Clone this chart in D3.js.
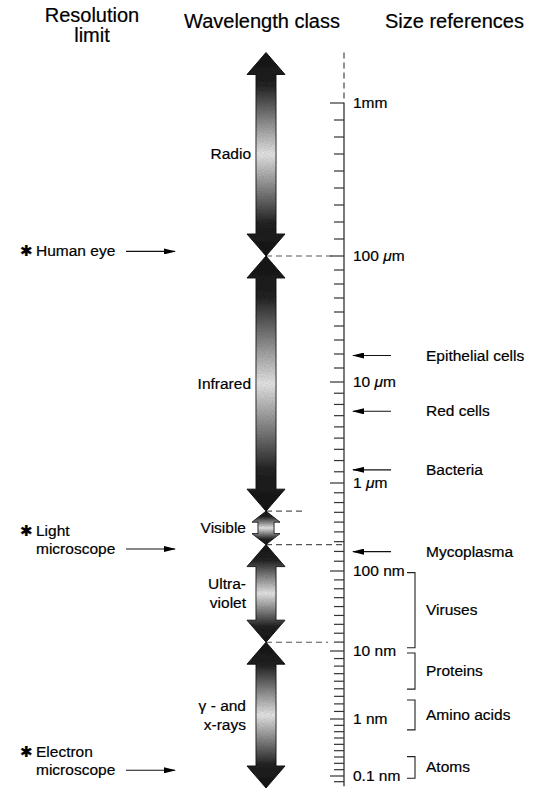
<!DOCTYPE html>
<html>
<head>
<meta charset="utf-8">
<script src="https://cdn.jsdelivr.net/npm/d3@7"></script>
<style>
  body { margin: 0; background: #fff; }
  svg { display: block; font-family: 'Liberation Sans', Arial, sans-serif; }
  text { stroke: #000; stroke-width: 0.2px; }
</style>
</head>
<body>
<svg id="chart"></svg>
<script>
// sizes are log10(metres)
const decadeLogs = [-3, -4, -5, -6, -7, -8, -9, -10]
const decadeLabels = [['1mm', ''], ['100 ', 'μ'], ['10 ', 'μ'], ['1 ', 'μ'], ['100 nm'], ['10 nm'], ['1 nm'], ['0.1 nm']]

const bandNames = [['Radio'], ['Infrared'], ['Visible'], ['Ultra-', 'violet'], ['γ - and', 'x-rays']]
const bandEdges = [-2.67, -4, -6.32, -6.7, -7.89, -10.21]

const limitNames = [['Human eye'], ['Light', 'microscope'], ['Electron', 'microscope']]
const limitValues = [-3.97, -6.75, -9.9]

const pointerNames = ['Epithelial cells', 'Red cells', 'Bacteria', 'Mycoplasma']
const pointerValues = [-4.79, -5.29, -5.87, -6.78]

const rangeNames = ['Viruses', 'Proteins', 'Amino acids', 'Atoms']
const rangeTops = [-7.02, -8.03, -8.72, -9.66]
const rangeBottoms = [-7.96, -8.56, -9.19, -10.04]

const config = {
    width: 536, height: 788,
    axisX: 344, arrowX: 266,
    // the ruler gets squeezed toward the small end, so each decade has its own length
    decadeY: [103, 256, 382, 483, 571, 651, 719, 776]
}

const svg = d3.select('#chart')
    .attr('width', config.width)
    .attr('height', config.height)

const y = d3.scaleLinear()
    .domain(decadeLogs)
    .range(config.decadeY)

const defs = svg.append('defs')

const grain = defs.append('filter').attr('id', 'grain')
grain.append('feTurbulence')
    .attr('type', 'fractalNoise').attr('baseFrequency', 0.9).attr('numOctaves', 2).attr('seed', 3).attr('result', 'n')
grain.append('feColorMatrix')
    .attr('in', 'n').attr('type', 'matrix')
    .attr('values', '0 0 0 0 0  0 0 0 0 0  0 0 0 0 0  0 0 0 0.35 0').attr('result', 'na')
grain.append('feComposite').attr('in', 'na').attr('in2', 'SourceAlpha').attr('operator', 'in').attr('result', 'g')
const merge = grain.append('feMerge')
merge.append('feMergeNode').attr('in', 'SourceGraphic')
merge.append('feMergeNode').attr('in', 'g')

const grad = defs.append('linearGradient')
    .attr('id', 'shade').attr('x1', 0).attr('y1', 0).attr('x2', 0).attr('y2', 1)
grad.selectAll('stop')
    .data([[0, '#1a1a1a'], [0.16, '#262626'], [0.5, '#f0f0f0'], [0.84, '#262626'], [1, '#1a1a1a']])
    .join('stop')
        .attr('offset', d => d[0])
        .attr('stop-color', d => d[1])

// headers
const headers = svg.append('g').attr('font-size', 20).attr('fill', '#000')
headers.append('text').attr('x', 92).attr('y', 22).attr('text-anchor', 'middle').text('Resolution')
headers.append('text').attr('x', 92).attr('y', 42).attr('text-anchor', 'middle').text('limit')
headers.append('text').attr('x', 262).attr('y', 28).attr('text-anchor', 'middle').text('Wavelength class')
headers.append('text').attr('x', 385).attr('y', 28).text('Size references')

// ruler
const ruler = svg.append('g')
ruler.append('line')
    .attr('x1', config.axisX).attr('x2', config.axisX)
    .attr('y1', y(-2.67)).attr('y2', y(-3))
    .attr('stroke', '#444').attr('stroke-width', 1.2).attr('stroke-dasharray', '6,4')
ruler.append('line')
    .attr('x1', config.axisX).attr('x2', config.axisX)
    .attr('y1', y(-3)).attr('y2', y(-10.18))
    .attr('stroke', '#333').attr('stroke-width', 1.3)

const minorTicks = []
decadeLogs.slice(0, -1).forEach(d => {
    for (let i = 1; i < 9; i++) minorTicks.push(d - i / 9)
})
minorTicks.push(-10.1)

ruler.selectAll('.minor')
    .data(minorTicks)
    .join('line')
        .attr('class', 'minor')
        .attr('x1', config.axisX - 10).attr('x2', config.axisX)
        .attr('y1', d => y(d)).attr('y2', d => y(d))
        .attr('stroke', '#333').attr('stroke-width', 1.2)

ruler.selectAll('.major')
    .data(decadeLogs)
    .join('line')
        .attr('class', 'major')
        .attr('x1', config.axisX - 14).attr('x2', config.axisX)
        .attr('y1', d => y(d)).attr('y2', d => y(d))
        .attr('stroke', '#333').attr('stroke-width', 1.2)

const tickText = ruler.selectAll('.tick-label')
    .data(decadeLogs)
    .join('text')
        .attr('class', 'tick-label')
        .attr('x', config.axisX + 9)
        .attr('y', d => y(d) + 5)
        .attr('font-size', 15.5)
        .attr('fill', '#000')
tickText.each(function (d, i) {
    const parts = decadeLabels[i]
    const t = d3.select(this)
    t.append('tspan').text(parts[0])
    if (parts.length > 1 && parts[1]) {
        t.append('tspan').attr('font-style', 'italic').text(parts[1])
        t.append('tspan').text('m')
    }
})

// dashed connectors from band boundaries to ruler
const connectorEnds = [null, 334, 302, 344, 328, null]
svg.append('g').selectAll('line')
    .data(bandEdges.map((d, i) => [d, connectorEnds[i]]).filter(d => d[1]))
    .join('line')
        .attr('x1', config.arrowX).attr('x2', d => d[1])
        .attr('y1', d => y(d[0])).attr('y2', d => y(d[0]))
        .attr('stroke', '#555').attr('stroke-width', 1.1).attr('stroke-dasharray', '6,4')

// double-headed arrows
function arrowPath(y0, y1, small) {
    const hw = small ? 14 : 19
    const sw = small ? 8 : 10
    const hh = small ? 11 : 22
    const x = config.arrowX
    return [
        [x, y0], [x + hw, y0 + hh], [x + sw, y0 + hh], [x + sw, y1 - hh], [x + hw, y1 - hh],
        [x, y1], [x - hw, y1 - hh], [x - sw, y1 - hh], [x - sw, y0 + hh], [x - hw, y0 + hh]
    ].map(p => p.join(',')).join('L')
}

const bands = bandNames.map((name, i) => ({
    name, top: bandEdges[i], bottom: bandEdges[i + 1]
}))

svg.append('g').attr('filter', 'url(#grain)')
    .selectAll('path')
    .data(bands)
    .join('path')
        .attr('d', d => 'M' + arrowPath(y(d.top), y(d.bottom), d.name[0] === 'Visible') + 'Z')
        .attr('fill', 'url(#shade)')
        .attr('stroke', '#111')
        .attr('stroke-width', 0.8)

const bandText = svg.append('g').selectAll('text')
    .data(bands)
    .join('text')
        .attr('text-anchor', 'end')
        .attr('font-size', 15.5)
        .attr('fill', '#000')
        .attr('x', d => d.name[0] === 'Radio' || d.name[0] === 'Infrared' ? 251 : 246)
        .attr('y', d => (y(d.top) + y(d.bottom)) / 2 + 5 - (d.name.length - 1) * 9)
bandText.selectAll('tspan')
    .data(d => d.name)
    .join('tspan')
        .attr('x', function () { return d3.select(this.parentNode).attr('x') })
        .attr('dy', (d, i) => i ? 19 : 0)
        .text(d => d)

// arrowheads
defs.append('marker')
    .attr('id', 'head').attr('viewBox', '0 0 12 6')
    .attr('refX', 11).attr('refY', 3)
    .attr('markerWidth', 12).attr('markerHeight', 6)
    .attr('markerUnits', 'userSpaceOnUse')
    .attr('orient', 'auto')
    .append('path').attr('d', 'M0,0L12,3L0,6Z').attr('fill', '#000')

// resolution limits
const limits = svg.append('g').selectAll('g')
    .data(limitNames.map((name, i) => ({ name, v: limitValues[i] })))
    .join('g')

limits.append('line')
    .attr('x1', 126).attr('x2', 175)
    .attr('y1', d => y(d.v)).attr('y2', d => y(d.v))
    .attr('stroke', '#111').attr('stroke-width', 1.1)
    .attr('marker-end', 'url(#head)')

limits.append('text')
    .attr('x', 20)
    .attr('y', d => y(d.v) - (d.name.length - 1) * 18 + 5)
    .attr('font-size', 15)
    .attr('fill', '#000')
    .text('✱')

limits.append('text')
    .attr('font-size', 15.5)
    .attr('fill', '#000')
    .attr('y', d => y(d.v) - (d.name.length - 1) * 18 + 5)
    .selectAll('tspan')
    .data(d => d.name)
    .join('tspan')
        .attr('x', 36)
        .attr('dy', (d, i) => i ? 18 : 0)
        .text(d => d)

// size references with pointers
const pointers = svg.append('g').selectAll('g')
    .data(pointerNames.map((name, i) => ({ name, v: pointerValues[i] })))
    .join('g')

pointers.append('line')
    .attr('x1', 391).attr('x2', 353)
    .attr('y1', d => y(d.v)).attr('y2', d => y(d.v))
    .attr('stroke', '#111').attr('stroke-width', 1.1)
    .attr('marker-end', 'url(#head)')

pointers.append('text')
    .attr('x', 426)
    .attr('y', d => y(d.v) + 5)
    .attr('font-size', 15.5)
    .attr('fill', '#000')
    .text(d => d.name)

// size references with brackets
const ranges = svg.append('g').selectAll('g')
    .data(rangeNames.map((name, i) => ({ name, top: rangeTops[i], bottom: rangeBottoms[i] })))
    .join('g')

ranges.append('path')
    .attr('d', d => `M407,${y(d.top)}H415V${y(d.bottom)}H407`)
    .attr('fill', 'none')
    .attr('stroke', '#222')
    .attr('stroke-width', 1.1)

ranges.append('text')
    .attr('x', 426)
    .attr('y', d => (y(d.top) + y(d.bottom)) / 2 + 5)
    .attr('font-size', 15.5)
    .attr('fill', '#000')
    .text(d => d.name)
</script>
</body>
</html>
